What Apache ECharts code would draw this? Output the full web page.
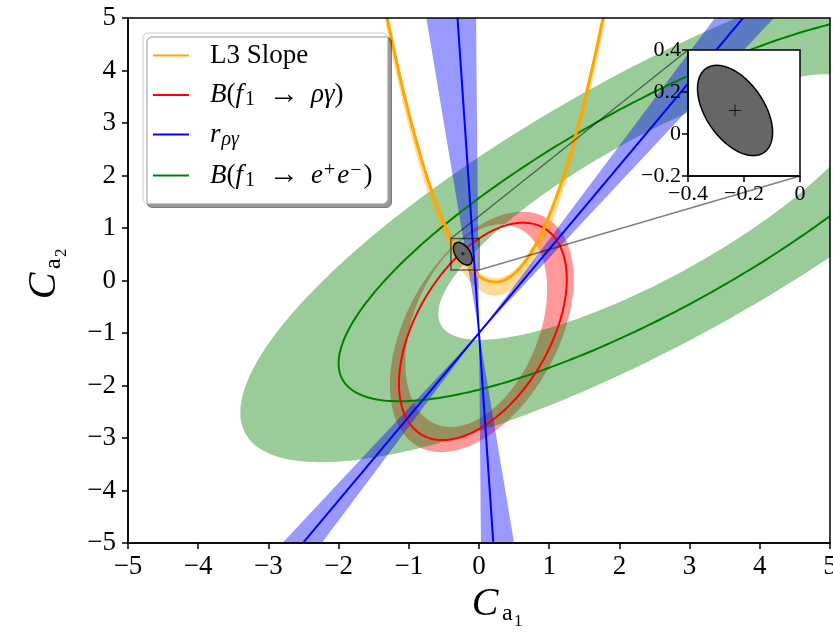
<!DOCTYPE html>
<html>
<head>
<meta charset="utf-8">
<script src="https://cdn.jsdelivr.net/npm/echarts@6/dist/echarts.min.js"></script>
<style>
  html, body { margin: 0; padding: 0; background: #ffffff; }
  #chart { width: 833px; height: 632px; }
</style>
</head>
<body>
<div id="chart"></div>
<script>
// ---- axis ticks ----
const mainTicks = [-5, -4, -3, -2, -1, 0, 1, 2, 3, 4, 5];
const insetXTicks = [-0.4, -0.2, 0];
const insetYTicks = [-0.2, 0, 0.2, 0.4];

// ---- constraint contours ----
// ellipses: [centre x, centre y, half-width, half-height, correlation]
const eeLine  = [2.5, 1.4, 4.5, 3.70, 0.805];     // B(f1 -> e+e-) central value
const eeInner = [2.5, 1.4, 3.08, 2.53, 0.805];    // band, inner edge
const eeOuter = [2.5, 1.4, 5.90, 4.86, 0.805];    // band, outer edge

const rgLine  = [0.055, -0.97, 1.195, 2.07, 0.48]; // B(f1 -> rho gamma) central value
const rgInner = [-0.04, -0.86, 1.01, 1.93, 0.36];
const rgOuter = [0.04, -0.98, 1.31, 2.29, 0.44];

// L3 slope: parabolas y = a (x - h)^2 + k, stored as [h, k, a]
const l3Line  = [0.23, -0.03, 2.13];
const l3Upper = [0.23, 0.04, 2.13];
const l3Lower = [0.23, -0.29, 2.13];

// r_rho-gamma: straight lines through a common point, x - x0 = m (y - y0)
const rPivot = [0, -1];
const rSlopes = [-0.051, 0.627];
const rBandLow = [-0.125, 0.56];
const rBandHigh = [-0.007, 0.70];

// best-fit region
const fitMain  = [-0.23, 0.51, 0.134, 0.215, -0.486];
const fitInset = [-0.232, 0.112, 0.134, 0.215, -0.486];
const zoomBoxX = [-0.4, 0];
const zoomBoxY = [0.2, 0.8];

const FONT = '"Liberation Serif", "DejaVu Serif", serif';

// ---- geometry helpers (data space) ----
function ellipsePts(e, n) {
  const [cx, cy, sx, sy, rho] = e;
  const q = Math.sqrt(1 - rho * rho);
  const pts = [];
  for (let i = 0; i < n; i++) {
    const t = 2 * Math.PI * i / n;
    pts.push([cx + sx * Math.cos(t), cy + sy * (rho * Math.cos(t) + q * Math.sin(t))]);
  }
  return pts;
}
function parabolaPts(p, yTop, n) {
  const [h, k, a] = p;
  const d = Math.sqrt((yTop - k) / a);
  const pts = [];
  for (let i = 0; i <= n; i++) {
    const x = h - d + 2 * d * i / n;
    pts.push([x, a * (x - h) * (x - h) + k]);
  }
  return pts;
}
function rayPt(m, y) { return [rPivot[0] + m * (y - rPivot[1]), y]; }

function toPath(api, pts, close) {
  let s = '';
  pts.forEach(function (p, i) {
    const c = api.coord(p);
    s += (i ? 'L' : 'M') + c[0].toFixed(2) + ' ' + c[1].toFixed(2);
  });
  return s + (close ? 'Z' : '');
}

function shapeSeries(name, z, grid, build, style) {
  return {
    type: 'custom', name: name, coordinateSystem: 'cartesian2d',
    xAxisIndex: grid, yAxisIndex: grid, clip: true, silent: true, z: z,
    itemStyle: { color: style.stroke || style.fill },
    data: [[insetXTicks[2], insetYTicks[1]]],
    renderItem: function (params, api) {
      return { type: 'path', shape: { pathData: build(api) }, style: style };
    }
  };
}

const ring = function (outer, inner) {
  return function (api) {
    return toPath(api, ellipsePts(outer, 360), true) +
           toPath(api, ellipsePts(inner, 360).reverse(), true);
  };
};
const loop = function (e) { return function (api) { return toPath(api, ellipsePts(e, 360), true); }; };

const series = [
  // bands
  shapeSeries('rg band', 1, 0, ring(rgOuter, rgInner), { fill: 'rgba(255,0,0,0.4)' }),
  shapeSeries('ee band', 2, 0, ring(eeOuter, eeInner), { fill: 'rgba(0,128,0,0.4)' }),
  shapeSeries('l3 band', 3, 0, function (api) {
    return toPath(api, parabolaPts(l3Upper, 6, 200), false) +
      toPath(api, parabolaPts(l3Lower, 6, 200).reverse(), false).replace(/^M/, 'L') + 'Z';
  }, { fill: 'rgba(255,165,0,0.4)' }),
  shapeSeries('r band', 4, 0, function (api) {
    let s = '';
    for (let i = 0; i < rSlopes.length; i++) {
      s += toPath(api, [rPivot, rayPt(rBandLow[i], 6), rayPt(rBandHigh[i], 6)], true);
      s += toPath(api, [rPivot, rayPt(rBandLow[i], -6), rayPt(rBandHigh[i], -6)], true);
    }
    return s;
  }, { fill: 'rgba(0,0,255,0.4)' }),
  // central values
  shapeSeries('ee', 5, 0, loop(eeLine), { fill: 'none', stroke: '#008000', lineWidth: 2 }),
  shapeSeries('rg', 6, 0, loop(rgLine), { fill: 'none', stroke: '#ff0000', lineWidth: 2 }),
  shapeSeries('l3', 7, 0, function (api) { return toPath(api, parabolaPts(l3Line, 6, 300), false); },
    { fill: 'none', stroke: '#ffa500', lineWidth: 3 }),
  shapeSeries('r', 8, 0, function (api) {
    let s = '';
    rSlopes.forEach(function (m) { s += toPath(api, [rayPt(m, -6), rayPt(m, 6)], false); });
    return s;
  }, { fill: 'none', stroke: '#0000ff', lineWidth: 2 }),
  // best fit in the main panel
  shapeSeries('fit', 9, 0, loop(fitMain), { fill: '#666666', stroke: '#000000', lineWidth: 1.5 }),
  shapeSeries('fit centre', 9, 0, function (api) {
    const c = api.coord([fitMain[0], fitMain[1]]);
    return 'M' + (c[0] - 2) + ' ' + c[1] + 'L' + (c[0] + 2) + ' ' + c[1] +
           'M' + c[0] + ' ' + (c[1] - 2) + 'L' + c[0] + ' ' + (c[1] + 2);
  }, { fill: 'none', stroke: '#000000', lineWidth: 0.8 }),
  shapeSeries('zoom box', 10, 0, function (api) {
    return toPath(api, [[zoomBoxX[0], zoomBoxY[0]], [zoomBoxX[1], zoomBoxY[0]],
      [zoomBoxX[1], zoomBoxY[1]], [zoomBoxX[0], zoomBoxY[1]]], true);
  }, { fill: 'none', stroke: 'rgba(0,0,0,0.55)', lineWidth: 1.5 }),
  // inset
  shapeSeries('fit inset', 16, 1, loop(fitInset), { fill: '#666666', stroke: '#000000', lineWidth: 1.5 }),
  shapeSeries('fit inset centre', 17, 1, function (api) {
    const c = api.coord([fitInset[0], fitInset[1]]);
    return 'M' + (c[0] - 6) + ' ' + c[1] + 'L' + (c[0] + 6) + ' ' + c[1] +
           'M' + c[0] + ' ' + (c[1] - 6) + 'L' + c[0] + ' ' + (c[1] + 6);
  }, { fill: 'none', stroke: '#000000', lineWidth: 0.8 })
];

const minus = function (s) { return String(s).replace('-', '\u2212'); };
const fmt = function (v) { return minus(Math.round(v * 10) / 10); };

const labelStyle = { fontFamily: FONT, fontSize: 27, color: '#000' };
const insetLabel = { fontFamily: FONT, fontSize: 22, color: '#000' };

const richLegend = {
  rm: { fontFamily: FONT, fontSize: 27, lineHeight: 30, verticalAlign: 'middle' },
  it: { fontFamily: FONT, fontSize: 27, fontStyle: 'italic', lineHeight: 30, verticalAlign: 'middle' },
  ar: { fontFamily: FONT, fontSize: 30, lineHeight: 30, verticalAlign: 'middle', padding: [0, 12, 0, 12] },
  sub: { fontFamily: FONT, fontSize: 20, lineHeight: 16, verticalAlign: 'bottom', padding: [0, 2, 0, 2] },
  subit: { fontFamily: FONT, fontSize: 20, fontStyle: 'italic', lineHeight: 16, verticalAlign: 'bottom', padding: [0, 0, 0, 1] },
  sup: { fontFamily: FONT, fontSize: 20, lineHeight: 16, verticalAlign: 'top', padding: [0, 2, 0, 1] }
};
const legendText = {
  'l3': '{rm|L3 Slope}',
  'rg': '{it|B}{rm|(}{it|f}{sub|1}{ar|\u2192}{it|\u03c1\u03b3}{rm|)}',
  'r': '{it|r}{subit|\u03c1\u03b3}',
  'ee': '{it|B}{rm|(}{it|f}{sub|1}{ar|\u2192}{it|e}{sup|+}{it|e}{sup|\u2212}{rm|)}'
};

const chart = echarts.init(document.getElementById('chart'), null, { renderer: 'canvas' });

const axisCommon = {
  type: 'value', splitLine: { show: false },
  axisLine: { show: true, onZero: false, lineStyle: { color: '#000', width: 1.5 } },
  axisTick: { show: true, inside: false, length: 6, lineStyle: { color: '#000', width: 1.5 } }
};

chart.setOption({
  animation: false,
  backgroundColor: '#ffffff',
  textStyle: { fontFamily: FONT },
  grid: [
    { left: 128, top: 18, width: 702, height: 525, show: true, z: 12, containLabel: false,
      outerBoundsMode: 'none',
      backgroundColor: 'rgba(0,0,0,0)', borderColor: '#000', borderWidth: 1.5 },
    { left: 688, top: 50, width: 112, height: 126, show: true, z: 14, containLabel: false,
      outerBoundsMode: 'none',
      backgroundColor: '#ffffff', borderColor: '#000', borderWidth: 1.5 }
  ],
  xAxis: [
    Object.assign({}, axisCommon, { gridIndex: 0, z: 12,
      min: mainTicks[0], max: mainTicks[mainTicks.length - 1], interval: mainTicks[1] - mainTicks[0],
      axisLabel: Object.assign({ margin: 10, formatter: fmt, hideOverlap: false }, labelStyle) }),
    Object.assign({}, axisCommon, { gridIndex: 1, z: 20,
      min: insetXTicks[0], max: insetXTicks[insetXTicks.length - 1], interval: 0.2,
      axisLabel: Object.assign({ margin: 7, formatter: fmt }, insetLabel) })
  ],
  yAxis: [
    Object.assign({}, axisCommon, { gridIndex: 0, z: 12,
      min: mainTicks[0], max: mainTicks[mainTicks.length - 1], interval: mainTicks[1] - mainTicks[0],
      axisLabel: Object.assign({ margin: 12, formatter: fmt }, labelStyle) }),
    Object.assign({}, axisCommon, { gridIndex: 1, z: 20,
      min: insetYTicks[0], max: insetYTicks[insetYTicks.length - 1], interval: 0.2,
      axisLabel: Object.assign({ margin: 7, formatter: fmt }, insetLabel) })
  ],
  legend: {
    orient: 'vertical', left: 143, top: 33, padding: [9, 15, 13, 10], itemGap: 11,
    itemWidth: 36, itemHeight: 2, selectedMode: false, z: 30,
    backgroundColor: '#ffffff', borderColor: '#cccccc', borderWidth: 1, borderRadius: 5,
    shadowColor: 'rgba(0,0,0,0.4)', shadowBlur: 0, shadowOffsetX: 4, shadowOffsetY: 4,
    data: ['l3', 'rg', 'r', 'ee'].map(function (n) { return { name: n, icon: 'rect' }; }),
    formatter: function (n) { return legendText[n]; },
    textStyle: { fontFamily: FONT, fontSize: 27, color: '#000', padding: [0, 0, 0, 16], rich: richLegend }
  },
  series: series
});

// connector lines between zoom box and inset frame, plus axis titles
const pMain = function (v) { return chart.convertToPixel({ xAxisIndex: 0, yAxisIndex: 0 }, v); };
const pInset = function (v) { return chart.convertToPixel({ xAxisIndex: 1, yAxisIndex: 1 }, v); };
const a1 = pMain([zoomBoxX[0], zoomBoxY[1]]), b1 = pInset([insetXTicks[0], insetYTicks[insetYTicks.length - 1]]);
const a2 = pMain([zoomBoxX[1], zoomBoxY[0]]), b2 = pInset([insetXTicks[insetXTicks.length - 1], insetYTicks[0]]);
const connStyle = { stroke: 'rgba(0,0,0,0.5)', lineWidth: 1.5 };

chart.setOption({
  graphic: [
    { type: 'line', z: 13, silent: true, shape: { x1: a1[0], y1: a1[1], x2: b1[0], y2: b1[1] }, style: connStyle },
    { type: 'line', z: 13, silent: true, shape: { x1: a2[0], y1: a2[1], x2: b2[0], y2: b2[1] }, style: connStyle },
    { type: 'group', x: 0, y: 0, children: [
      { type: 'text', x: 485, y: 604, style: { text: 'C', font: 'italic 40px ' + FONT, fill: '#000', align: 'center', verticalAlign: 'middle' } },
      { type: 'text', x: 502, y: 614, style: { text: 'a', font: '24px ' + FONT, fill: '#000', align: 'left', verticalAlign: 'middle' } },
      { type: 'text', x: 514, y: 622, style: { text: '1', font: '17px ' + FONT, fill: '#000', align: 'left', verticalAlign: 'middle' } }
    ] },
    { type: 'group', x: 44, y: 280, rotation: Math.PI / 2, children: [
      { type: 'text', x: -6, y: 0, style: { text: 'C', font: 'italic 40px ' + FONT, fill: '#000', align: 'center', verticalAlign: 'middle' } },
      { type: 'text', x: 11, y: 10, style: { text: 'a', font: '24px ' + FONT, fill: '#000', align: 'left', verticalAlign: 'middle' } },
      { type: 'text', x: 23, y: 18, style: { text: '2', font: '17px ' + FONT, fill: '#000', align: 'left', verticalAlign: 'middle' } }
    ] }
  ]
});
</script>
</body>
</html>
